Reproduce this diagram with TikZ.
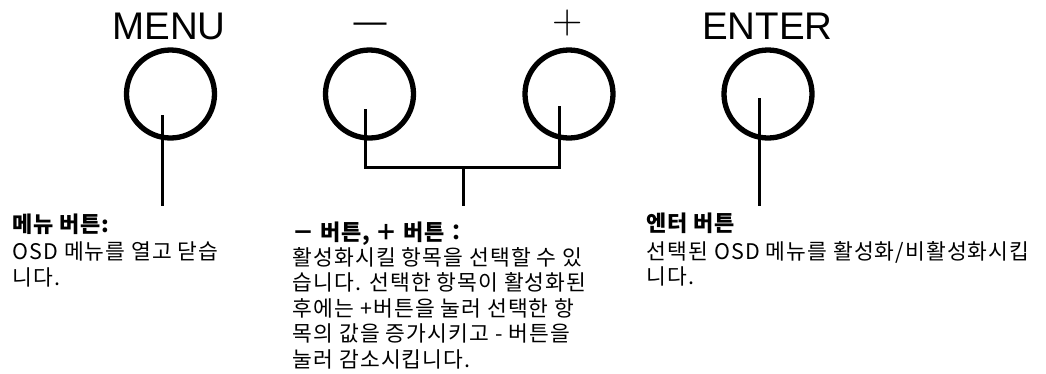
\documentclass[tikz,border=0pt]{standalone}
\usepackage{fontspec}
\setmainfont{Noto Sans CJK KR}
\newfontfamily\keyfont{Liberation Sans}
\newfontfamily\signfont{Latin Modern Roman}
\usetikzlibrary{positioning}

\begin{document}
\begin{tikzpicture}[x=1pt, y=-1pt, thick,
    button/.style={draw, circle, line width=5.3pt, minimum size=88pt, inner sep=0pt},
    keyname/.style={font=\keyfont\fontsize{38.5}{40}\selectfont, inner sep=0pt, anchor=base},
    stem/.style={line width=3pt},
    title/.style={font=\fontsize{22}{25.5}\selectfont\bfseries\addfontfeatures{LetterSpace=3}, inner sep=0pt, anchor=north west},
    body/.style={font=\fontsize{21.5}{25.5}\selectfont\addfontfeatures{LetterSpace=5}, inner sep=0pt, align=left, anchor=north west}]
  \useasboundingbox (0,0) rectangle (1046,373);
  % buttons
  \node[button] (menu) at (170.5,94) {};
  \node[button] (minus) at (369.5,94) {};
  \node[button] (plus) at (569,94) {};
  \node[button] (enter) at (768,94) {};
  % key names
  \node[keyname] (menuname) at (169,39.3) {MENU};
  \node[keyname, font=\keyfont\fontsize{33}{34}\selectfont] (minusname) at (370,32.5) {—};
  \node[keyname, font=\signfont\fontsize{42}{44}\selectfont] (plusname) at (568,33.8) {+};
  \node[keyname] (entername) at (767.5,39.3) {ENTER};
  % stems
  \coordinate (menutop) at (162,115);
  \coordinate (menuend) at (162,206);
  \coordinate (minustop) at (365,109);
  \coordinate (plustop) at (559,106);
  \coordinate (join) at (463,167);
  \coordinate (joinend) at (463,206);
  \coordinate (entertop) at (759,98);
  \coordinate (enterend) at (759,206);
  \draw[stem] (menutop) -- (menuend);
  \draw[stem] (minustop) |- (join) -| (plustop);
  \draw[stem] (join) -- (joinend);
  \draw[stem] (entertop) -- (enterend);
  % descriptions
  \node[title] (menutitle) at (12,214) {메뉴 버튼:};
  \node[body] (menutext) at (12,241.5) {OSD 메뉴를 열고 닫습\\니다.};
  \node[title] (pmtitle) at (292.5,222) {－ 버튼, ＋ 버튼：};
  \node[body] (pmtext) at (292.5,247) {활성화시킬 항목을 선택할 수 있\\습니다. 선택한 항목이 활성화된\\후에는 +버튼을 눌러 선택한 항\\목의 값을 증가시키고 - 버튼을\\눌러 감소시킵니다.};
  \node[title] (entertitle) at (646.5,213) {엔터 버튼};
  \node[body] (entertext) at (646.5,241) {선택된 OSD 메뉴를 활성화/비활성화시킵\\니다.};
\end{tikzpicture}
\end{document}
